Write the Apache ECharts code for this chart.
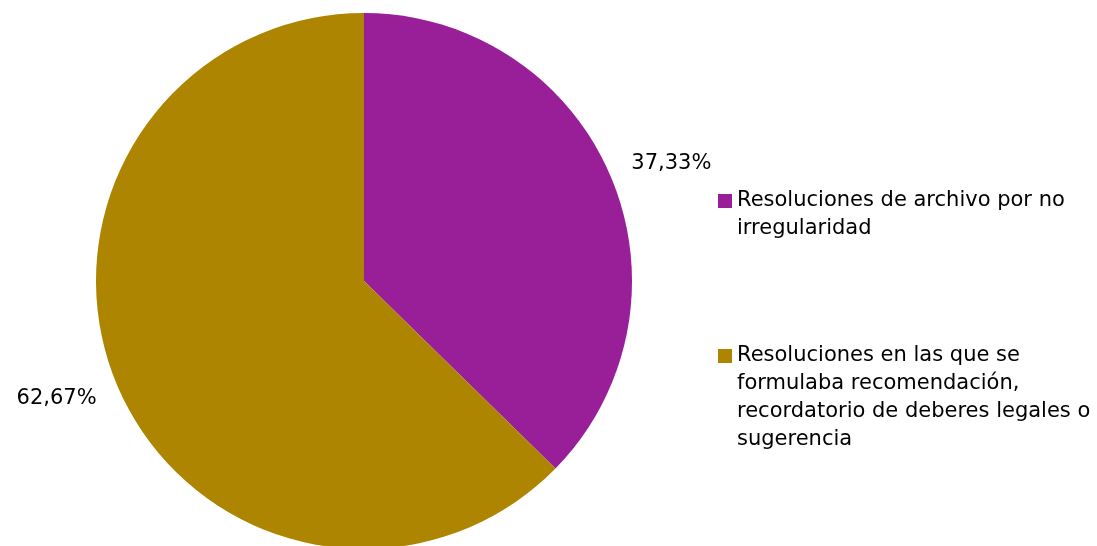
<!DOCTYPE html>
<html>
<head>
<meta charset="utf-8">
<script src="https://cdn.jsdelivr.net/npm/echarts@6/dist/echarts.min.js"></script>
<style>
html,body{margin:0;padding:0;background:#fff;}
#chart{width:1097px;height:546px;}
</style>
</head>
<body>
<div id="chart"></div>
<script>
var categories = [
  'Resoluciones de archivo por no irregularidad',
  'Resoluciones en las que se formulaba recomendación, recordatorio de deberes legales o sugerencia'
];
var values = [37.33, 62.67];
var valueLabels = ['37,33%', '62,67%'];
var legendLines = [
  ['Resoluciones de archivo por no', 'irregularidad'],
  ['Resoluciones en las que se', 'formulaba recomendación,', 'recordatorio de deberes legales o', 'sugerencia']
];
var colors = ['#991F99', '#AD8500'];

var chart = echarts.init(document.getElementById('chart'), null, {renderer: 'canvas'});
var FONT = 'DejaVu Sans';

chart.setOption({
  animation: false,
  color: colors,
  legend: {
    orient: 'vertical',
    left: 713,
    top: 154,
    itemWidth: 14,
    itemHeight: 14,
    itemGap: 15,
    icon: 'rect',
    textStyle: {fontFamily: FONT, fontSize: 21, color: '#000', lineHeight: 28},
    formatter: function (name) {
      var i = categories.indexOf(name);
      var lines = legendLines[i];
      var pad = [];
      for (var k = 1; k < lines.length; k++) pad.push('');
      return pad.concat(lines).join('\n');
    },
    data: categories
  },
  series: [{
    type: 'pie',
    center: [364, 281],
    radius: 268,
    startAngle: 90,
    clockwise: true,
    avoidLabelOverlap: false,
    itemStyle: {borderWidth: 0},
    label: {
      show: true,
      position: 'outside',
      fontFamily: FONT,
      fontSize: 21,
      color: '#000',
      distanceToLabelLine: -12,
      formatter: function (p) { return valueLabels[p.dataIndex]; }
    },
    labelLine: {show: false, length: 35, length2: 0},
    emphasis: {disabled: true},
    data: categories.map(function (c, i) { return {name: c, value: values[i]}; })
  }]
});
</script>
</body>
</html>
